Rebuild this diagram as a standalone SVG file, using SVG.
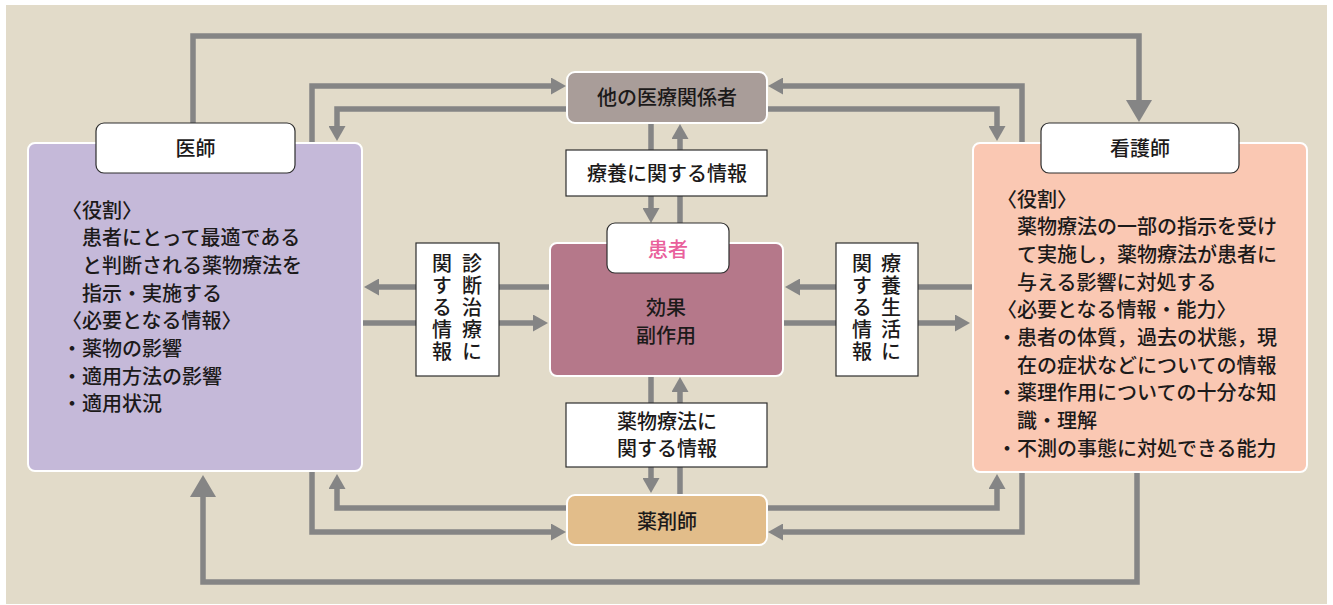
<svg xmlns="http://www.w3.org/2000/svg" width="1333" height="605" viewBox="0 0 1333 605">
<defs>
<style>
.t{font-family:"Noto Sans CJK JP","Noto Sans CJK SC",sans-serif;font-size:20px;font-weight:500;fill:#1c1a1a}
.c{text-anchor:middle}
.v{writing-mode:vertical-rl;letter-spacing:2px;text-anchor:start}
.ln{fill:none;stroke:#858585;stroke-width:5.5;stroke-linejoin:miter;stroke-linecap:butt}
.s{marker-end:url(#ah)}
.b{marker-end:url(#ahb)}
.node{stroke:#ffffff;stroke-width:2}
.lab{fill:#ffffff;stroke:#2e2e2e;stroke-width:1.2}
</style>
<marker id="ah" markerUnits="userSpaceOnUse" viewBox="0 0 15 17" markerWidth="15" markerHeight="17" refX="0" refY="8.5" orient="auto"><path d="M0,0 L15,8.5 L0,17 Z" fill="#858585"/></marker>
<marker id="ahb" markerUnits="userSpaceOnUse" viewBox="0 0 22 26" markerWidth="22" markerHeight="26" refX="0" refY="13" orient="auto"><path d="M0,0 L22,13 L0,26 Z" fill="#858585"/></marker>
</defs>
<rect x="0" y="0" width="1333" height="605" fill="#ffffff"/>
<rect x="6" y="5" width="1321" height="599" fill="#e2dbc9"/>

<g id="connectors">
<path class="ln b" d="M193,123 V36 H1139 V100"/>
<path class="ln s" d="M312,143 V86 H551"/>
<path class="ln s" d="M567,109 H337 V126"/>
<path class="ln s" d="M1022,143 V86 H783"/>
<path class="ln s" d="M767,109 H997 V126"/>
<path class="ln s" d="M651,123 V208"/>
<path class="ln s" d="M680,223 V139"/>
<path class="ln s" d="M651,376 V478"/>
<path class="ln s" d="M680,495 V392"/>
<path class="ln s" d="M549,287 H379"/>
<path class="ln s" d="M362,323 H533"/>
<path class="ln s" d="M973,287 H800"/>
<path class="ln s" d="M783,323 H955"/>
<path class="ln s" d="M567,508 H337 V489"/>
<path class="ln s" d="M312,471 V532 H551"/>
<path class="ln s" d="M767,508 H997 V489"/>
<path class="ln s" d="M1022,472 V532 H783"/>
<path class="ln b" d="M1137,472 V582 H203 V497"/>
</g>

<g id="doctor">
<rect class="node" x="28" y="143" width="334" height="328" rx="7" fill="#c5b9d9"/>
<rect class="lab" x="96" y="123" width="199" height="50" rx="8"/>
<text class="t c" x="195.5" y="155.5">医師</text>
<text class="t" x="62" y="217.5">〈役割〉</text>
<text class="t" x="82" y="245.2">患者にとって最適である</text>
<text class="t" x="82" y="272.9">と判断される薬物療法を</text>
<text class="t" x="82" y="300.6">指示・実施する</text>
<text class="t" x="62" y="328.3">〈必要となる情報〉</text>
<text class="t" x="62" y="356">・薬物の影響</text>
<text class="t" x="62" y="383.7">・適用方法の影響</text>
<text class="t" x="62" y="411.4">・適用状況</text>
</g>

<g id="nurse">
<rect class="node" x="973" y="143" width="334" height="329" rx="7" fill="#fac8b3"/>
<rect class="lab" x="1041" y="123" width="198" height="50" rx="8"/>
<text class="t c" x="1140" y="155.5">看護師</text>
<text class="t" x="997" y="206.5">〈役割〉</text>
<text class="t" x="1017" y="234.2">薬物療法の一部の指示を受け</text>
<text class="t" x="1017" y="261.9">て実施し，薬物療法が患者に</text>
<text class="t" x="1017" y="289.6">与える影響に対処する</text>
<text class="t" x="997" y="317.3">〈必要となる情報・能力〉</text>
<text class="t" x="997" y="345">・患者の体質，過去の状態，現</text>
<text class="t" x="1017" y="372.7">在の症状などについての情報</text>
<text class="t" x="997" y="400.4">・薬理作用についての十分な知</text>
<text class="t" x="1017" y="428.1">識・理解</text>
<text class="t" x="997" y="455.8">・不測の事態に対処できる能力</text>
</g>

<g id="other-staff">
<rect class="node" x="567" y="72" width="200" height="51" rx="8" fill="#a99d99"/>
<text class="t c" x="667" y="104.5">他の医療関係者</text>
</g>

<g id="patient">
<rect class="node" x="550" y="243" width="233" height="133" rx="7" fill="#b5788a"/>
<rect class="lab" x="607" y="223" width="122" height="50" rx="8"/>
<text class="t c" x="668" y="257" style="fill:#e9609b">患者</text>
<text class="t c" x="666"><tspan x="666" y="315">効果</tspan><tspan x="666" y="342.5">副作用</tspan></text>
</g>

<g id="pharmacist">
<rect class="node" x="567" y="495" width="200" height="50" rx="8" fill="#e2bd8a"/>
<text class="t c" x="667" y="529">薬剤師</text>
</g>

<g id="info-care">
<rect class="lab" x="566" y="150" width="201" height="46"/>
<text class="t c" x="667" y="180.5">療養に関する情報</text>
</g>

<g id="info-drug">
<rect class="lab" x="566" y="403" width="201" height="64"/>
<text class="t c"><tspan x="667" y="428.5">薬物療法に</tspan><tspan x="667" y="456.2">関する情報</tspan></text>
</g>

<g id="info-diagnosis">
<rect class="lab" x="416" y="243" width="83" height="133"/>
<text class="t v" x="472" y="253">診断治療に</text>
<text class="t v" x="442" y="253">関する情報</text>
</g>

<g id="info-life">
<rect class="lab" x="836" y="243" width="82" height="133"/>
<text class="t v" x="891" y="253">療養生活に</text>
<text class="t v" x="862" y="253">関する情報</text>
</g>
</svg>
